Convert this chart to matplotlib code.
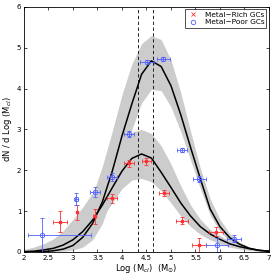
import numpy as np
import matplotlib
matplotlib.use('Agg')
import matplotlib.pyplot as plt

x_mod = [2.0, 2.2, 2.4, 2.6, 2.8, 3.0, 3.2, 3.4, 3.6, 3.8, 4.0, 4.2, 4.4,
         4.6, 4.8, 5.0, 5.2, 5.4, 5.6, 5.8, 6.0, 6.2, 6.4, 6.6, 6.8, 7.0]

# metal-rich model + band
rich_fit = [0.01, 0.02, 0.05, 0.09, 0.17, 0.30, 0.50, 0.78, 1.15, 1.57, 1.98, 2.29, 2.40,
            2.30, 1.95, 1.58, 1.20, 0.88, 0.62, 0.44, 0.31, 0.20, 0.13, 0.08, 0.04, 0.02]
rich_lo = [0.0, 0.0, 0.01, 0.02, 0.05, 0.12, 0.25, 0.48, 0.85, 1.20, 1.55, 1.76, 1.80,
           1.72, 1.50, 1.20, 0.88, 0.62, 0.43, 0.30, 0.20, 0.12, 0.07, 0.04, 0.02, 0.01]
rich_hi = [0.06, 0.12, 0.20, 0.32, 0.52, 0.80, 1.10, 1.45, 1.85, 2.30, 2.68, 2.93, 3.00,
           2.90, 2.60, 2.15, 1.62, 1.15, 0.80, 0.55, 0.40, 0.27, 0.18, 0.12, 0.07, 0.04]

# metal-poor model + band
poor_fit = [0.0, 0.0, 0.01, 0.03, 0.07, 0.16, 0.36, 0.70, 1.23, 1.97, 2.84, 3.62, 4.35,
            4.68, 4.54, 4.07, 3.36, 2.56, 1.79, 1.05, 0.62, 0.35, 0.19, 0.09, 0.04, 0.02]
poor_lo = [0.0, 0.0, 0.0, 0.01, 0.02, 0.05, 0.12, 0.30, 0.70, 1.35, 2.15, 3.00, 3.65,
           3.98, 3.95, 3.55, 2.95, 2.25, 1.55, 0.90, 0.50, 0.25, 0.12, 0.05, 0.02, 0.01]
poor_hi = [0.02, 0.04, 0.08, 0.15, 0.28, 0.50, 0.85, 1.40, 2.10, 2.95, 3.85, 4.60, 5.10,
           5.30, 5.20, 4.70, 3.90, 2.95, 2.05, 1.30, 0.80, 0.45, 0.24, 0.12, 0.05, 0.02]

# binned data
rich_x = [2.73, 3.08, 3.44, 3.79, 4.15, 4.50, 4.86, 5.22, 5.57, 5.92]
rich_y = [0.74, 0.97, 0.87, 1.31, 2.17, 2.22, 1.44, 0.77, 0.17, 0.50]
rich_yerr = [0.26, 0.19, 0.18, 0.10, 0.08, 0.08, 0.08, 0.08, 0.17, 0.11]
rich_xerr = [0.14, 0.0, 0.03, 0.10, 0.10, 0.10, 0.10, 0.12, 0.14, 0.15]

poor_x = [2.36, 3.07, 3.45, 3.79, 4.15, 4.51, 4.84, 5.22, 5.58, 5.94, 6.28]
poor_y = [0.42, 1.30, 1.47, 1.84, 2.89, 4.66, 4.72, 2.49, 1.78, 0.17, 0.33]
poor_yerr = [0.42, 0.15, 0.13, 0.10, 0.07, 0.05, 0.05, 0.05, 0.07, 0.17, 0.08]
poor_xlo = [0.27, 0.03, 0.10, 0.10, 0.10, 0.14, 0.13, 0.10, 0.14, 0.22, 0.14]
poor_xhi = [1.01, 0.03, 0.10, 0.10, 0.10, 0.14, 0.13, 0.10, 0.14, 0.22, 0.14]

# peak positions (dashed lines)
peaks = [4.33, 4.64]

red = '#ff3030'
blue = '#5060ff'
grey = '#cccccc'

fig = plt.figure(figsize=(2.74, 2.76), dpi=100)
ax = fig.add_axes([0.0876, 0.087, 0.894, 0.888])

ax.fill_between(x_mod, rich_lo, rich_hi, color=grey, lw=0)
ax.fill_between(x_mod, poor_lo, poor_hi, color=grey, lw=0)
ax.plot(x_mod, rich_fit, color='k', lw=1.1)
ax.plot(x_mod, poor_fit, color='k', lw=1.1)

for p in peaks:
    ax.axvline(p, color='k', ls=(0, (4, 3)), lw=0.6)

ax.errorbar(rich_x, rich_y, yerr=rich_yerr, xerr=rich_xerr, fmt='s', color=red,
            ms=1.8, elinewidth=0.6, capsize=1.3, capthick=0.6, label='_nolegend_')
ax.errorbar(poor_x, poor_y, yerr=poor_yerr, xerr=[poor_xlo, poor_xhi], fmt='o', color=blue,
            mfc='none', ms=3.2, mew=0.6, elinewidth=0.6, capsize=1.3, capthick=0.6,
            label='_nolegend_')

# legend handles
ax.plot([], [], 'x', color=red, ms=2.5, mew=0.6, label='Metal\u2212Rich GCs')
ax.plot([], [], 'o', color=blue, mfc='none', ms=3.2, mew=0.6, label='Metal\u2212Poor GCs')
leg = ax.legend(loc='upper right', fontsize=5.3, frameon=True, fancybox=False,
                borderpad=0.3, handlelength=1.5, handletextpad=0.8, labelspacing=0.2,
                borderaxespad=0.35)
leg.get_frame().set_edgecolor('k')
leg.get_frame().set_linewidth(0.6)

ax.set_xlim(2, 7)
ax.set_ylim(0, 6)
ax.set_xticks([2, 2.5, 3, 3.5, 4, 4.5, 5, 5.5, 6, 6.5, 7])
ax.set_xticklabels(['2', '2.5', '3', '3.5', '4', '4.5', '5', '5.5', '6', '6.5', '7'])
ax.set_yticks([0, 1, 2, 3, 4, 5, 6])
ax.tick_params(direction='in', top=True, right=True, labelsize=5, length=2.5,
               width=0.5, pad=2)
for s in ax.spines.values():
    s.set_linewidth(0.6)

ax.set_xlabel(r'Log (M$_{cl}$)  (M$_{\odot}$)', fontsize=6, labelpad=1)
ax.set_ylabel(r'dN / d Log (M$_{cl}$)', fontsize=6, labelpad=2)

fig.savefig('out.png', dpi=100)
